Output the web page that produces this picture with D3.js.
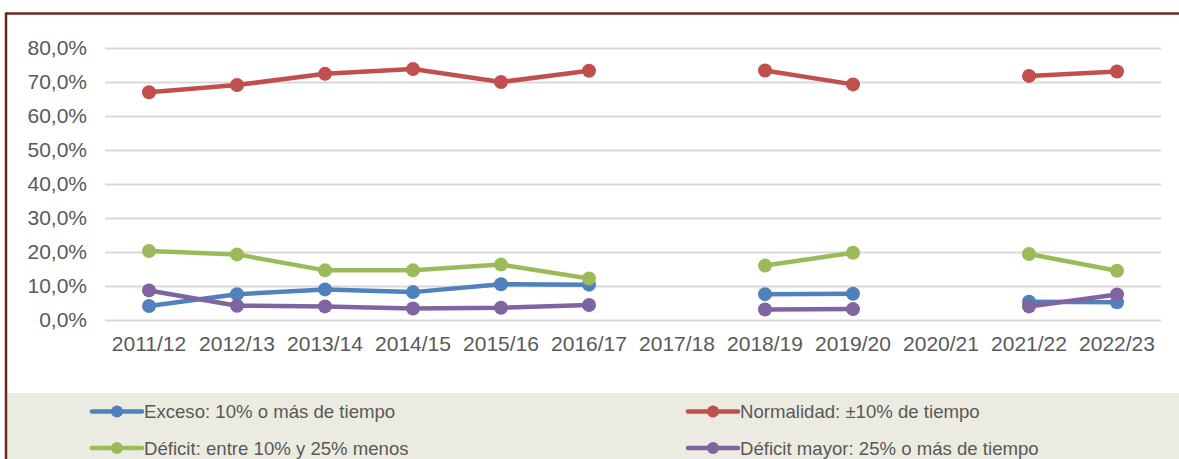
<!DOCTYPE html>
<html>
<head>
<meta charset="utf-8">
<script src="https://cdn.jsdelivr.net/npm/d3@7"></script>
<style>
body{margin:0;background:#fff}
svg text{font-family:"Liberation Sans",Arial,sans-serif;fill:#595959}
</style>
</head>
<body>
<svg id="chart" width="1179" height="459"></svg>
<script>
var categories = ['2011/12','2012/13','2013/14','2014/15','2015/16','2016/17','2017/18','2018/19','2019/20','2020/21','2021/22','2022/23']
var exceso = [4.1,7.6,9.0,8.2,10.5,10.4,null,7.6,7.7,null,5.4,5.2]
var normalidad = [67.0,69.1,72.4,73.8,70.0,73.3,null,73.4,69.3,null,71.8,73.1]
var deficit = [20.3,19.3,14.6,14.6,16.3,12.2,null,16.0,19.8,null,19.4,14.5]
var deficitMayor = [8.7,4.2,4.0,3.4,3.6,4.4,null,3.1,3.2,null,4.0,7.5]
var yTicks = [0,10,20,30,40,50,60,70,80]

var series = [
	{name:'Exceso: 10% o más de tiempo', values:exceso, color:'#4f81bd'},
	{name:'Normalidad: ±10% de tiempo', values:normalidad, color:'#c0504d'},
	{name:'Déficit: entre 10% y 25% menos', values:deficit, color:'#9bbb59'},
	{name:'Déficit mayor: 25% o más de tiempo', values:deficitMayor, color:'#8064a2'}
]

var svg = d3.select('#chart')

// legend background and frame
svg.append('rect')
	.attr('x',7).attr('y',393).attr('width',1172).attr('height',66)
	.attr('fill','#ecebe1')
svg.append('line')
	.attr('x1',6).attr('x2',1179).attr('y1',13.5).attr('y2',13.5)
	.attr('stroke','#6b2626').attr('stroke-width',2.5)
svg.append('line')
	.attr('x1',6).attr('x2',6).attr('y1',12.5).attr('y2',459)
	.attr('stroke','#6b2626').attr('stroke-width',2.5)

var x = d3.scaleBand()
	.domain(categories)
	.range([105,1161])
var y = d3.scaleLinear()
	.domain([0,80])
	.range([320,48])

var yAxis = svg.append('g')
	.attr('transform','translate(105,0)')
	.call(d3.axisLeft(y).tickValues(yTicks).tickSize(-1056).tickPadding(18)
		.tickFormat(function(d){ return d3.format('.1f')(d).replace('.',',')+'%' }))
yAxis.select('.domain').remove()
yAxis.selectAll('line').attr('stroke','#d9d9d9').attr('stroke-width',2)
yAxis.selectAll('text').attr('font-size',21).style('font-family','"Liberation Sans",Arial,sans-serif').attr('fill','#595959')

var xAxis = svg.append('g')
	.attr('transform','translate(0,320)')
	.call(d3.axisBottom(x).tickSize(0).tickPadding(16))
xAxis.select('.domain').remove()
xAxis.selectAll('text').attr('font-size',21).style('font-family','"Liberation Sans",Arial,sans-serif').attr('fill','#595959')

var line = d3.line()
	.defined(function(d){ return d != null })
	.x(function(d,i){ return x(categories[i]) + x.bandwidth()/2 })
	.y(function(d){ return y(d) })

series.forEach(function(s){
	var g = svg.append('g')
	g.append('path')
		.datum(s.values)
		.attr('d',line)
		.attr('fill','none')
		.attr('stroke',s.color)
		.attr('stroke-width',4.5)
		.attr('stroke-linejoin','round')
	g.selectAll('circle')
		.data(s.values.map(function(v,i){ return {v:v,c:categories[i]} }).filter(function(d){ return d.v != null }))
		.enter().append('circle')
		.attr('cx',function(d){ return x(d.c) + x.bandwidth()/2 })
		.attr('cy',function(d){ return y(d.v) })
		.attr('r',7)
		.attr('fill',s.color)
})

// legend
var legendPos = [[92,411.5],[688,411.5],[92,448],[688,448]]
series.forEach(function(s,i){
	var p = legendPos[i]
	var g = svg.append('g').attr('transform','translate('+p[0]+','+p[1]+')')
	g.append('line')
		.attr('x1',0).attr('x2',50).attr('y1',0).attr('y2',0)
		.attr('stroke',s.color).attr('stroke-width',4.5).attr('stroke-linecap','round')
	g.append('circle').attr('cx',25).attr('r',6).attr('fill',s.color)
	g.append('text')
		.attr('x',52).attr('y',0).attr('dy','0.35em')
		.attr('font-size',18.6)
		.text(s.name)
})
</script>
</body>
</html>
